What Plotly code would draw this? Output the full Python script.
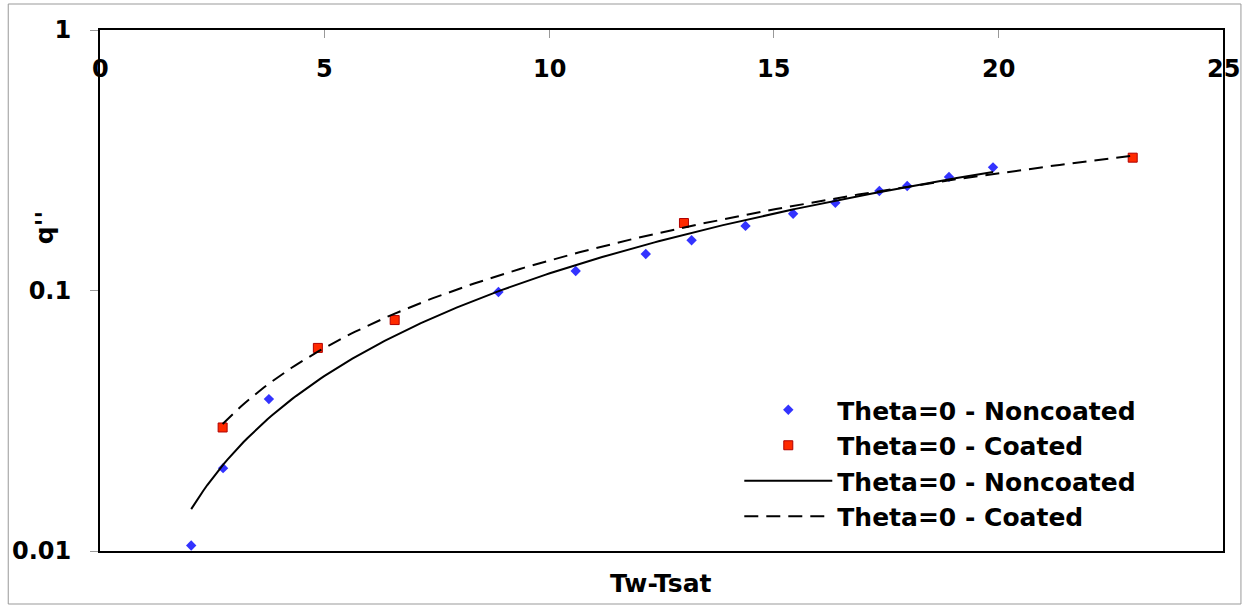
import numpy as np
import plotly.graph_objects as go

# ---- data ----
x_noncoated = [2.03, 2.74, 3.76, 8.87, 10.59, 12.15, 13.17, 14.37, 15.43, 16.37, 17.35, 17.97, 18.90, 19.88]
q_noncoated = [0.0105, 0.0208, 0.0383, 0.0987, 0.1188, 0.138, 0.156, 0.177, 0.197, 0.217, 0.241, 0.252, 0.273, 0.297]

x_coated = [2.73, 4.85, 6.56, 13.0, 22.99]
q_coated = [0.0298, 0.0602, 0.077, 0.1816, 0.3235]

# power trendlines q = a * x^b, coefficients
trend_noncoated = dict(a=0.005745, b=1.306)
trend_coated = dict(a=0.01005, b=1.113)

x_ticks = [0, 5, 10, 15, 20, 25]
x_tick_labels = ["0", "5", "10", "15", "20", "25"]
y_ticks = [0.01, 0.1, 1]
y_tick_labels = ["0.01", "0.1", "1"]

series_name_nc = "Theta=0 - Noncoated"
series_name_c = "Theta=0 - Coated"
x_title = "Tw-Tsat"
y_title = "q''"


def power_curve(xs, coef, n=200):
    xx = np.linspace(min(xs), max(xs), n)
    return xx, coef["a"] * xx ** coef["b"]


tx_nc, ty_nc = power_curve(x_noncoated, trend_noncoated)
tx_c, ty_c = power_curve(x_coated, trend_coated)

FONT = "DejaVu Sans"

fig = go.Figure()
fig.add_trace(go.Scatter(
    x=x_noncoated, y=q_noncoated, mode="markers", name=series_name_nc,
    marker=dict(symbol="diamond", size=8, color="#3333FF", line=dict(width=0)),
))
fig.add_trace(go.Scatter(
    x=x_coated, y=q_coated, mode="markers", name=series_name_c,
    marker=dict(symbol="square", size=9, color="#FF2A00", line=dict(width=1, color="#B00000")),
))
fig.add_trace(go.Scatter(
    x=tx_nc, y=ty_nc, mode="lines", name=series_name_nc,
    line=dict(color="black", width=2),
))
fig.add_trace(go.Scatter(
    x=tx_c, y=ty_c, mode="lines", name=series_name_c,
    line=dict(color="black", width=2, dash="14px,8px"),
))

W, H = 1245, 605
L, T, R, B = 97, 30, 22, 54
pw, ph = W - L - R, H - T - B


def px_x(p):
    return (p - L) / pw


def px_y(p):
    return (H - B - p) / ph


bold24 = dict(family=FONT, size=24, color="black", weight="bold")
bold25 = dict(family=FONT, size=25, color="black", weight="bold")

annotations = [
    dict(text=lab, xref="x", yref="paper", x=v, y=px_y(69),
         showarrow=False, xanchor="center", yanchor="middle", font=bold24)
    for v, lab in zip(x_ticks, x_tick_labels)
]
annotations += [
    dict(text=x_title, xref="paper", yref="paper", x=px_x(659), y=px_y(583),
         showarrow=False, xanchor="center", yanchor="middle", font=bold25),
    dict(text=y_title, xref="paper", yref="paper", x=px_x(41), y=px_y(228),
         showarrow=False, xanchor="center", yanchor="middle", textangle=-90, font=bold25),
]

fig.update_layout(
    width=W, height=H,
    margin=dict(l=L, r=R, t=T, b=B, pad=0),
    paper_bgcolor="white", plot_bgcolor="white",
    font=dict(family=FONT, color="black", size=25),
    showlegend=True,
    legend=dict(
        x=px_x(738), y=px_y(387), xanchor="left", yanchor="top",
        bgcolor="rgba(0,0,0,0)", borderwidth=0,
        font=bold25, itemwidth=88, tracegroupgap=0,
    ),
    xaxis=dict(
        range=[0, 25], side="top", tickvals=x_ticks, showticklabels=False,
        ticks="inside", ticklen=8, tickcolor="#999999", tickwidth=1,
        showline=True, linecolor="black", linewidth=2, mirror=True,
        showgrid=False, zeroline=False,
    ),
    yaxis=dict(
        type="log", range=[-2, 0], tickvals=y_ticks, ticktext=y_tick_labels,
        ticks="outside", ticklen=8, tickcolor="#999999", tickwidth=1,
        ticklabelstandoff=14, tickfont=bold24,
        showline=True, linecolor="black", linewidth=2, mirror=True,
        showgrid=False, zeroline=False,
    ),
    annotations=annotations,
    shapes=[
        dict(type="rect", xref="paper", yref="paper",
             x0=px_x(5), x1=px_x(1241), y0=px_y(604), y1=px_y(4),
             line=dict(color="#999999", width=1), layer="below"),
    ],
)

fig.write_html("out.html")
